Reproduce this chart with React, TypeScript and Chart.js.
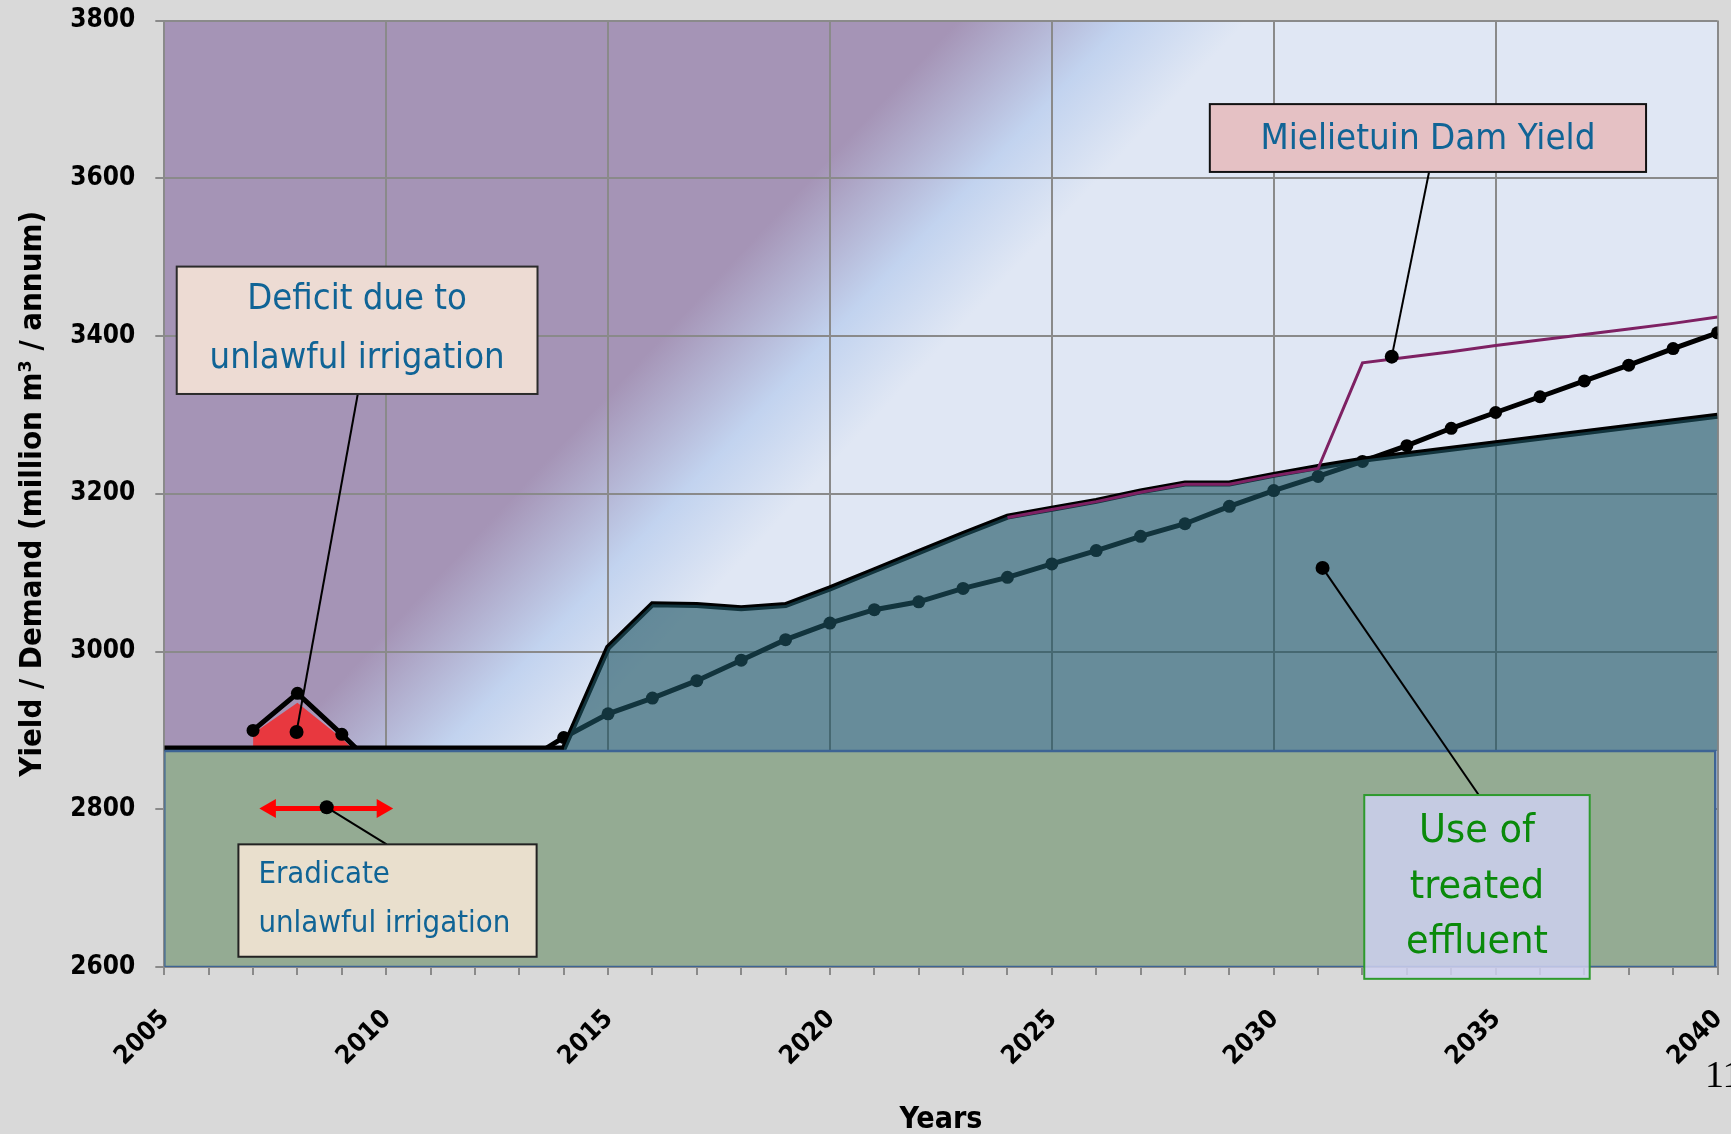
import React, { useEffect, useRef } from 'react';
import { Chart, registerables } from 'chart.js';

Chart.register(...registerables);

// ---------------- data ----------------
const years = [
  2005, 2006, 2007, 2008, 2009, 2010, 2011, 2012, 2013, 2014, 2015, 2016,
  2017, 2018, 2019, 2020, 2021, 2022, 2023, 2024, 2025, 2026, 2027, 2028,
  2029, 2030, 2031, 2032, 2033, 2034, 2035, 2036, 2037, 2038, 2039, 2040,
];

// System yield (top of the shaded area)
const yieldValues = [
  2877, 2877, 2877, 2877, 2877, 2877, 2877, 2877, 2877, 2877, 3005, 3060,
  3059, 3055, 3059, 3080, 3103, 3126, 3149, 3171, 3181, 3191, 3203, 3213,
  3213, 3224, 3234, 3243, 3250, 3257, 3264, 3271, 3278, 3285, 3292, 3299,
];

// Water requirement / demand
const demandValues = [
  null, null, 2900, 2947, 2895, 2840, 2845, 2850, 2856, 2891, 2921, 2941,
  2963, 2989, 3015, 3036, 3053, 3063, 3080, 3094, 3111, 3128, 3146, 3162,
  3184, 3204, 3222, 3241, 3261, 3283, 3303, 3323, 3343, 3363, 3384, 3404,
];

// Yield with Mielietuin Dam
const mielietuinValues = [
  null, null, null, null, null, null, null, null, null, null, null, null,
  null, null, null, null, null, null, null, 3170, 3180, 3190, 3202, 3212,
  3212, 3223, 3232, 3366, 3373, 3380, 3388, 3395, 3402, 3409, 3416, 3424,
];

// Deficit area (unlawful irrigation)
const deficitValues = [
  null, null, 2896, 2935, 2890, 2835, null, null, null, null, null, null,
  null, null, null, null, null, null, null, null, null, null, null, null,
  null, null, null, null, null, null, null, null, null, null, null, null,
];

// Existing base yield (top of the green block)
const baseYield = 2874;
const axisMin = 2600;
const axisMax = 3800;
const yearMin = 2005;
const yearMax = 2040;
const blockEndYear = 2039.95;

const yTitle = 'Yield / Demand (million m\u00B3 / annum)';
const xTitle = 'Years';

// annotation points (dots at the end of the leader lines)
const noteDots = [
  { x: 2007.98, y: 2898 },
  { x: 2008.66, y: 2802.5 },
  { x: 2032.66, y: 3373.8 },
  { x: 2031.1, y: 3106 },
];
const leaderLines = [
  [{ x: 2009.36, y: 3326.5 }, { x: 2007.98, y: 2898 }],
  [{ x: 2008.66, y: 2802.5 }, { x: 2010.01, y: 2755.5 }],
  [{ x: 2033.5, y: 3608 }, { x: 2032.66, y: 3373.8 }],
  [{ x: 2034.62, y: 2818 }, { x: 2031.1, y: 3106 }],
];
const arrowPoints = [{ x: 2007.39, y: 2801 }, { x: 2009.91, y: 2801 }];

// ---------------- styles ----------------
const FAMILY = '"DejaVu Sans Condensed", "DejaVu Sans", Verdana, sans-serif';
const GRID = '#8a8a8a';
const TEAL = 'rgba(29,84,98,0.62)';
const GREEN = '#94ab93';
const GREEN_BORDER = '#3e6494';
const PURPLE = '#7e2163';
const RED = '#e8383f';
const NOTE_BLUE = '#106496';

const notes = [
  {
    lines: ['Deficit due to', 'unlawful irrigation'],
    x0: 2005.28, x1: 2013.41, yTop: 3488, yBot: 3326.5,
    fill: '#eddbd3', stroke: '#2b2b2b', color: NOTE_BLUE,
    align: 'center', inset: 0, rows: [0.26, 0.72],
    fitText: 'unlawful irrigation', fitWidth: 295, capHeight: 26,
  },
  {
    lines: ['Eradicate', 'unlawful irrigation'],
    x0: 2006.67, x1: 2013.39, yTop: 2755.5, yBot: 2613,
    fill: '#e9dfcd', stroke: '#222222', color: NOTE_BLUE,
    align: 'left', inset: 20, rows: [0.27, 0.71],
    fitText: 'unlawful irrigation', fitWidth: 252, capHeight: 22.5,
  },
  {
    lines: ['Mielietuin Dam Yield'],
    x0: 2028.56, x1: 2038.39, yTop: 3694, yBot: 3608,
    fill: '#e5c1c4', stroke: '#111111', color: NOTE_BLUE,
    align: 'center', inset: 0, rows: [0.52],
    fitText: 'Mielietuin Dam Yield', fitWidth: 335, capHeight: 26,
  },
  {
    lines: ['Use of', 'treated', 'effluent'],
    x0: 2032.04, x1: 2037.12, yTop: 2818, yBot: 2585,
    fill: 'rgba(206,208,240,0.85)', stroke: '#2e9a2e', color: '#0a8a0a',
    align: 'center', inset: 0, rows: [0.2, 0.505, 0.805],
    fitText: 'effluent', fitWidth: 142, capHeight: 29,
  },
];

function measure(text: string, weight: string, size: number): number {
  const c = document.createElement('canvas').getContext('2d')!;
  c.font = `${weight} ${size}px ${FAMILY}`;
  return c.measureText(text).width;
}

function fitSize(text: string, weight: string, target: number): number {
  return (100 * target) / measure(text, weight, 100);
}

const pts = (vals: (number | null)[]) => years.map((yr, i) => ({ x: yr, y: vals[i] }));

export default function App() {
  const ref = useRef<HTMLCanvasElement>(null);

  useEffect(() => {
    document.body.style.margin = '0';
    document.body.style.background = '#d9d9d9';
    const canvas = ref.current;
    if (!canvas) return;

    const tickSize = fitSize('3800', 'bold', 65);
    const yTitleSize = fitSize(yTitle, 'bold', 566);
    const xTitleSize = fitSize(xTitle, 'bold', 83);
    // font sized by cap height, then squeezed horizontally to the reference width
    const noteFonts = notes.map((n) => {
      const size = n.capHeight / 0.729;
      const w = measure(n.fitText, 'normal', size);
      return { size, sx: Math.min(1.15, n.fitWidth / w) };
    });

    Chart.defaults.font.family = FAMILY;

    const tealValues = yieldValues.map((v, i) => (years[i] >= 2014 ? v : null));

    const bgPlugin = {
      id: 'bgGradient',
      beforeDraw(chart: any) {
        const { ctx, chartArea: a } = chart;
        const w = a.right - a.left;
        const h = a.bottom - a.top;
        const g = ctx.createLinearGradient(
          a.left + 0.2298 * w, a.top + 0.4936 * h,
          a.left + 0.329 * w, a.top + 0.6459 * h,
        );
        g.addColorStop(0, '#a594b6');
        g.addColorStop(0.578, '#c2d3ef');
        g.addColorStop(1, '#e0e7f4');
        ctx.save();
        ctx.fillStyle = g;
        ctx.fillRect(a.left, a.top, w, h);
        ctx.restore();
      },
    };

    const notesPlugin = {
      id: 'notes',
      afterDatasetsDraw(chart: any) {
        const { ctx, scales } = chart;
        const xs = scales.x;
        const ys = scales.y;
        notes.forEach((n, k) => {
          const l = xs.getPixelForValue(n.x0);
          const r = xs.getPixelForValue(n.x1);
          const t = ys.getPixelForValue(n.yTop);
          const b = ys.getPixelForValue(n.yBot);
          ctx.save();
          ctx.fillStyle = n.fill;
          ctx.fillRect(l, t, r - l, b - t);
          ctx.strokeStyle = n.stroke;
          ctx.lineWidth = 2;
          ctx.strokeRect(l, t, r - l, b - t);
          const f = noteFonts[k];
          ctx.font = `normal ${f.size}px ${FAMILY}`;
          ctx.fillStyle = n.color;
          ctx.textBaseline = 'middle';
          n.lines.forEach((line, i) => {
            const yy = t + (b - t) * n.rows[i];
            const xx = n.align === 'left' ? l + n.inset : (l + r) / 2;
            ctx.save();
            ctx.translate(xx, yy);
            ctx.scale(f.sx, 1);
            ctx.textAlign = n.align === 'left' ? 'left' : 'center';
            ctx.fillText(line, 0, 0);
            ctx.restore();
          });
          ctx.restore();
        });
      },
    };

    const blockShape = [
      { x: yearMin, y: axisMin },
      { x: yearMin, y: baseYield },
      { x: blockEndYear, y: baseYield },
      { x: blockEndYear, y: axisMin },
      { x: yearMin, y: axisMin },
    ];

    const datasets: any[] = [
      {
        label: 'Deficit',
        data: pts(deficitValues),
        borderWidth: 0,
        pointRadius: 0,
        backgroundColor: RED,
        fill: { target: { value: baseYield }, above: RED, below: 'rgba(0,0,0,0)' },
        order: 12,
      },
      {
        label: 'Yield',
        data: pts(yieldValues),
        borderColor: '#000',
        borderWidth: 6,
        pointRadius: 0,
        fill: false,
        order: 11,
      },
      {
        label: 'Demand',
        data: pts(demandValues),
        borderColor: '#000',
        borderWidth: 5,
        pointRadius: 6.5,
        pointBackgroundColor: '#000',
        pointBorderWidth: 0,
        fill: false,
        order: 10,
      },
      {
        label: 'Yield area',
        data: pts(tealValues),
        borderWidth: 0,
        pointRadius: 0,
        backgroundColor: TEAL,
        fill: { value: baseYield },
        order: 9,
      },
      {
        label: 'Mielietuin Dam Yield',
        data: pts(mielietuinValues),
        borderColor: PURPLE,
        borderWidth: 3,
        pointRadius: 0,
        fill: false,
        order: 8,
      },
      {
        label: 'Base yield',
        data: blockShape,
        borderColor: GREEN_BORDER,
        borderWidth: 2.5,
        backgroundColor: GREEN,
        pointRadius: 0,
        fill: 'shape',
        order: 7,
      },
      {
        label: 'Arrow',
        data: arrowPoints,
        borderColor: '#ff0000',
        borderWidth: 5,
        pointStyle: 'triangle',
        pointRotation: [270, 90],
        pointRadius: 11,
        pointBackgroundColor: '#ff0000',
        pointBorderWidth: 0,
        fill: false,
        order: 6,
      },
      ...leaderLines.map((seg, i) => ({
        label: 'Leader ' + i,
        data: seg,
        borderColor: '#000',
        borderWidth: 2,
        pointRadius: 0,
        fill: false,
        order: 5,
      })),
      {
        label: 'Dots',
        data: noteDots,
        showLine: false,
        pointRadius: 7,
        pointBackgroundColor: '#000',
        pointBorderWidth: 0,
        fill: false,
        order: 4,
      },
    ];

    const chart = new Chart(canvas, {
      type: 'line',
      data: { datasets },
      plugins: [bgPlugin, notesPlugin],
      options: {
        responsive: false,
        animation: false,
        devicePixelRatio: 1,
        events: [],
        elements: { line: { tension: 0 } },
        layout: { padding: { left: 0, top: 20.5, right: 13.5, bottom: 0 } },
        plugins: { legend: { display: false }, tooltip: { enabled: false } },
        scales: {
          x: {
            type: 'linear',
            min: yearMin,
            max: yearMax,
            afterFit(scale: any) {
              scale.height = 167;
              scale.paddingLeft = 0;
              scale.paddingRight = 0;
            },
            ticks: {
              stepSize: 1,
              autoSkip: false,
              minRotation: 45,
              maxRotation: 45,
              padding: 29,
              labelOffset: 1,
              color: '#000',
              font: { weight: 'bold', size: tickSize, family: FAMILY },
              callback: (v: any) => (Math.round(Number(v)) % 5 === 0 ? String(Math.round(Number(v))) : ''),
            },
            grid: {
              color: (c: any) => (c.tick && Math.round(c.tick.value) % 5 === 0 ? GRID : 'rgba(0,0,0,0)'),
              tickColor: GRID,
              lineWidth: 2,
              tickLength: 8,
              drawTicks: true,
            },
            border: { display: true, color: GRID, width: 2 },
            title: {
              display: true,
              text: xTitle,
              color: '#000',
              font: { weight: 'bold', size: xTitleSize, family: FAMILY },
              padding: { top: 0, bottom: 14 - 0.6 * xTitleSize },
            },
          },
          y: {
            type: 'linear',
            min: axisMin,
            max: axisMax,
            afterFit(scale: any) {
              scale.width = 164.3;
              scale.paddingTop = 0;
              scale.paddingBottom = 0;
            },
            ticks: {
              stepSize: 200,
              padding: 20,
              color: '#000',
              font: { weight: 'bold', size: tickSize, family: FAMILY },
              callback: (v: any) => String(Math.round(Number(v))),
            },
            grid: {
              color: GRID,
              tickColor: GRID,
              lineWidth: 2,
              tickLength: 9,
            },
            border: { display: true, color: GRID, width: 2 },
            title: {
              display: true,
              text: yTitle,
              color: '#000',
              font: { weight: 'bold', size: yTitleSize, family: FAMILY },
              padding: { top: 33 - 0.6 * yTitleSize, bottom: 0 },
            },
          },
        },
      } as any,
    });

    return () => chart.destroy();
  }, []);

  return (
    <div
      style={{
        position: 'fixed',
        left: 0,
        top: 0,
        width: 1731,
        height: 1134,
        overflow: 'hidden',
        background: '#d9d9d9',
      }}
    >
      <canvas ref={ref} width={1731} height={1134} style={{ display: 'block' }} />
      <div
        style={{
          position: 'absolute',
          left: 1705,
          top: 1055,
          fontFamily: '"Liberation Serif", serif',
          fontSize: 38,
          lineHeight: 1,
          color: '#000',
        }}
      >
        11
      </div>
    </div>
  );
}
